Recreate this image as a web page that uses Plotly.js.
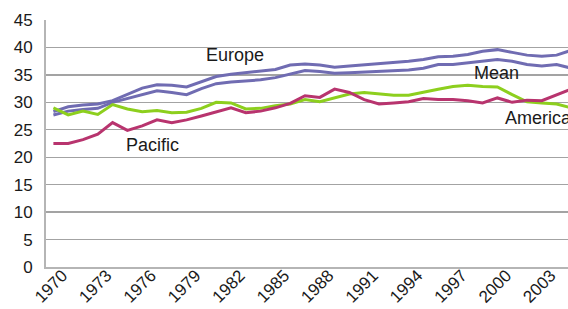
<!DOCTYPE html>
<html>
<head>
<meta charset="utf-8">
<script src="https://cdn.plot.ly/plotly-3.0.1.min.js"></script>
<style>html,body{margin:0;padding:0;background:#fff;}#chart{width:568px;height:309px;}</style>
</head>
<body>
<div id="chart"></div>
<script>
const years = [1970,1971,1972,1973,1974,1975,1976,1977,1978,1979,1980,1981,1982,1983,1984,1985,1986,1987,1988,1989,1990,1991,1992,1993,1994,1995,1996,1997,1998,1999,2000,2001,2002,2003,2004,2005];
const europe = [28.3,29.2,29.5,29.7,30.3,31.5,32.6,33.2,33.1,32.8, 33.7,34.7,35.1,35.4,35.6,36.0,36.8,37.0,36.8,36.4, 36.6,36.8,37.0,37.3,37.5,37.8,38.3,38.4,38.7,39.3, 39.6,39.1,38.6,38.4,38.6,39.5];
const mean = [27.7,28.4,28.7,28.9,30.0,30.7,31.3,32.1,31.8,31.4, 32.5,33.4,33.7,33.9,34.1,34.5,35.2,35.8,35.6,35.3, 35.4,35.5,35.6,35.8,35.9,36.2,36.9,36.9,37.2,37.6, 37.8,37.5,36.9,36.6,36.9,36.2];
const america = [29.0,27.7,28.4,27.8,29.6,28.8,28.3,28.5,28.1,28.2, 28.9,30.0,29.9,28.8,28.9,29.4,29.7,30.5,30.1,30.8, 31.5,31.8,31.5,31.3,31.3,31.9,32.4,32.9,33.1,32.9, 32.8,31.4,30.1,29.9,29.7,29.0];
const pacific = [22.5,22.5,23.2,24.2,26.3,24.9,25.7,26.8,26.3,26.8, 27.5,28.3,29.0,28.1,28.4,29.0,29.8,31.2,30.9,32.4, 31.8,30.5,29.7,29.9,30.1,30.7,30.5,30.5,30.3,29.9, 30.8,30.0,30.4,30.3,31.4,32.4];
const tickYears = [1970,1973,1976,1979,1982,1985,1988,1991,1994,1997,2000,2003];
const tickLabels = tickYears.map(String);
const seriesNames = ['Europe','Mean','America','Pacific'];

const purple = '#706cb2', green = '#8dcf1e', crimson = '#b8346e';
function tr(name, y, color){
  return {type:'scatter', mode:'lines', name:name, x:years, y:y,
    line:{color:color, width:3}, hoverinfo:'skip'};
}
const data = [tr('Europe',europe,purple), tr('Mean',mean,purple), tr('America',america,green), tr('Pacific',pacific,crimson)];

const font = 'Liberation Sans, Arial, Helvetica, sans-serif';
const labels = [
  {text:seriesNames[0], x:1980.15, y:38.6},
  {text:seriesNames[1], x:1998.25, y:35.3},
  {text:seriesNames[2], x:2000.35, y:27.1},
  {text:seriesNames[3], x:1974.75, y:22.3}
];
const layout = {
  width:568, height:309,
  margin:{l:46, r:0, t:20, b:42},
  paper_bgcolor:'#fff', plot_bgcolor:'#fff',
  showlegend:false,
  font:{family:font, size:17, color:'#1a1a1a'},
  xaxis:{type:'linear', range:[1969.5, 2004.77], tickmode:'array', tickvals:tickYears, ticktext:tickLabels,
    tickangle:-45, ticklabelshift:9, ticklabelstandoff:-10, showgrid:false, zeroline:false,
    showline:true, linecolor:'#b5b5b5', linewidth:2, ticks:'', tickfont:{family:font, size:17, color:'#1a1a1a'}},
  yaxis:{range:[0,45], dtick:5, tick0:0, showgrid:true, gridcolor:'#a3a3a3', gridwidth:1.3,
    zeroline:false, showline:true, linecolor:'#b5b5b5', linewidth:2, ticks:'', ticklabelstandoff:8,
    tickfont:{family:font, size:17, color:'#1a1a1a'}},
  annotations: labels.map(l => ({text:l.text, x:l.x, y:l.y, xref:'x', yref:'y', xanchor:'left', yanchor:'middle',
    showarrow:false, font:{family:font, size:18, color:'#1a1a1a'}}))
};
Plotly.newPlot('chart', data, layout, {staticPlot:true, displayModeBar:false});
</script>
</body>
</html>
